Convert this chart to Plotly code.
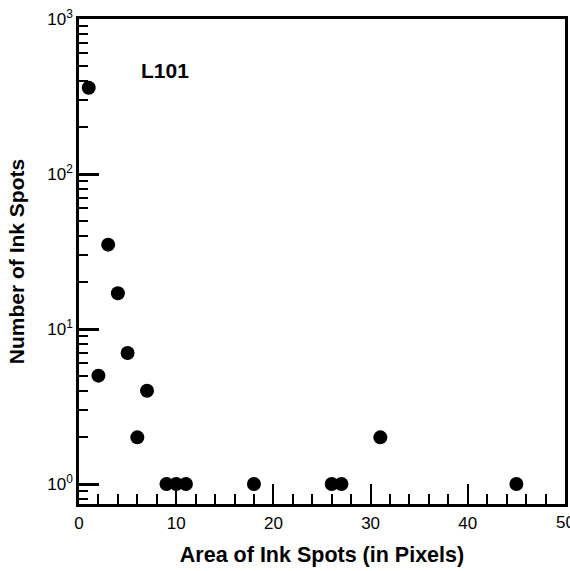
import plotly.graph_objects as go

area = [1, 2, 3, 4, 5, 6, 7, 9, 10, 11, 18, 26, 27, 31, 45]
count = [360, 5, 35, 17, 7, 2, 4, 1, 1, 1, 1, 1, 1, 2, 1]

y_major = [1, 10, 100, 1000]
y_major_text = ["10<sup>0</sup>", "10<sup>1</sup>", "10<sup>2</sup>", "10<sup>3</sup>"]
y_minor = [m * d for d in [0.1, 1, 10, 100] for m in range(2, 10) if 0.74 < m * d < 1000]
x_major = [0, 10, 20, 30, 40, 50]
x_minor = [v for v in range(2, 50, 2) if v % 10 != 0]

fam = "Arial, Liberation Sans, sans-serif"

fig = go.Figure()
fig.add_trace(go.Scatter(
    x=area, y=count, mode="markers",
    marker=dict(color="black", size=14),
    showlegend=False,
))

fig.add_annotation(
    x=0.177, y=0.893, xref="paper", yref="paper",
    xanchor="center", yanchor="middle",
    text="<b>L101</b>", showarrow=False,
    font=dict(family=fam, size=21, color="black"),
)

# last x tick label (clipped at the page edge like the reference)
fig.add_annotation(
    x=x_major[-1], y=0, xref="x", yref="paper",
    xanchor="center", yanchor="top", yshift=-7,
    text=str(x_major[-1]), showarrow=False,
    font=dict(family=fam, size=17, color="black"),
)

fig.update_layout(
    width=570, height=571,
    margin=dict(l=79, r=2, t=19, b=67),
    plot_bgcolor="white", paper_bgcolor="white",
    font=dict(family=fam, size=17, color="black"),
    xaxis=dict(
        range=[0, 50], tickvals=x_major[:-1], ticktext=[str(v) for v in x_major[:-1]],
        ticks="inside", ticklen=20, tickwidth=2, tickcolor="black",
        showline=True, linecolor="black", linewidth=2.5, mirror=True,
        showgrid=False, zeroline=False, ticklabelstandoff=2,
        minor=dict(tickvals=x_minor, ticks="inside", ticklen=10, tickwidth=1.5, tickcolor="black", showgrid=False),
        title=dict(text="<b>Area of Ink Spots (in Pixels)</b>", font=dict(size=21.5), standoff=15),
        tickfont=dict(size=17),
    ),
    yaxis=dict(
        type="log", range=[-0.129, 3],
        tickvals=y_major, ticktext=y_major_text,
        ticks="inside", ticklen=20, tickwidth=2.5, tickcolor="black",
        showline=True, linecolor="black", linewidth=2.5, mirror=True,
        showgrid=False, zeroline=False,
        minor=dict(tickvals=y_minor, ticks="inside", ticklen=9, tickwidth=1.5, tickcolor="black", showgrid=False),
        title=dict(text="<b>Number of Ink Spots</b>", font=dict(size=21), standoff=17),
        tickfont=dict(size=17),
    ),
)

fig.write_html("out.html", config={"displayModeBar": False},
               post_script="document.body.style.margin='0';document.body.style.overflow='hidden';")
